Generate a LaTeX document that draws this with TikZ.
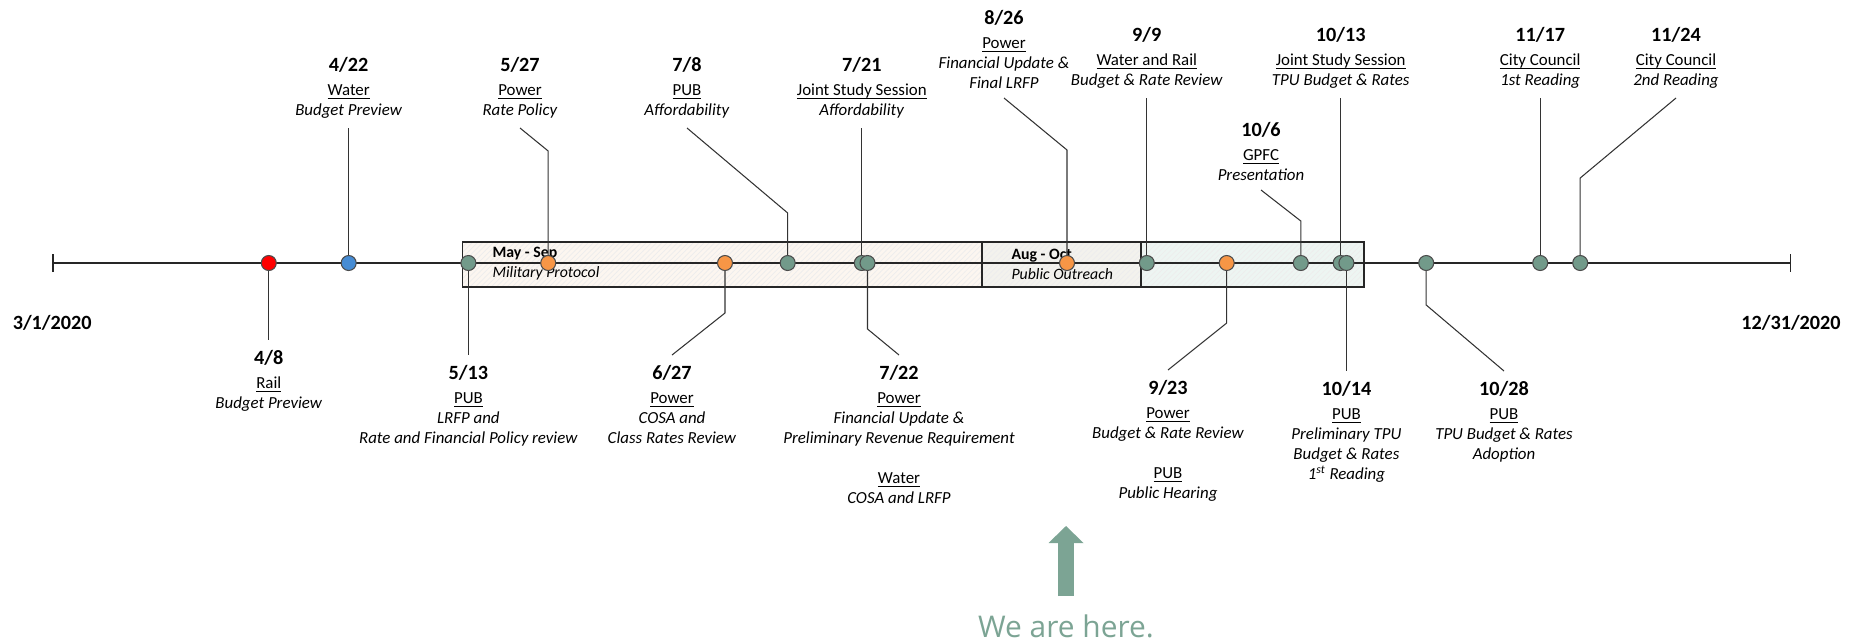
\documentclass[tikz,border=0pt]{standalone}
\usepackage{fontspec}
\setmainfont{Carlito}
\newfontfamily\herefont{Open Sans}
\usetikzlibrary{positioning,arrows.meta,patterns}

\definecolor{tpugreen}{RGB}{114,154,138}
\definecolor{tpuorange}{RGB}{247,150,70}
\definecolor{tpublue}{RGB}{70,140,212}
\definecolor{tpured}{RGB}{255,0,0}
\definecolor{peach}{RGB}{252,246,240}
\definecolor{sand}{RGB}{243,242,237}
\definecolor{mint}{RGB}{237,245,242}
\definecolor{heregreen}{RGB}{124,164,148}

\newcommand{\lblfont}{\fontsize{9.6}{11.4}\selectfont}
\newcommand{\dt}[1]{{\fontsize{11.5}{11.4}\selectfont\bfseries #1}\\[2.3pt]}
\newcommand{\ul}[1]{\underline{\smash{#1}}}

\tikzset{every picture/.style={line width=0.6pt}}
\tikzset{
  evt/.style={circle, draw=black!70, line width=0.6pt, minimum size=3mm, inner sep=0pt},
  gdot/.style={evt, fill=tpugreen},
  odot/.style={evt, fill=tpuorange},
  bdot/.style={evt, fill=tpublue},
  rdot/.style={evt, fill=tpured},
  lbl/.style={align=center, font=\lblfont, inner xsep=0pt},
  toplbl/.style={lbl, anchor=south, inner ysep=5pt},
  botlbl/.style={lbl, anchor=north, inner ysep=5.5pt},
  leader/.style={draw=black!80, line width=0.6pt},
  timeline/.style={draw=black!85, line width=0.8pt, arrows={Bar[width=3.6mm]-Bar[width=3.6mm]}},
  period/.style={draw=black!85, line width=0.6pt, pattern=north east lines, pattern color=black!7},
  periodlbl/.style={anchor=west, align=left, font=\fontsize{9}{11.4}\selectfont, inner sep=0pt},
  enddate/.style={font=\fontsize{11.5}{14}\selectfont\bfseries},
  herelbl/.style={font=\herefont\fontsize{17}{20}\selectfont, text=heregreen},
  herearrow/.style={draw=heregreen, line width=3.2mm, -{Triangle[width=7mm,length=3.4mm,line width=0pt]}}
}

\begin{document}
\begin{tikzpicture}[x=0.2mm, y=-0.2mm]
\useasboundingbox (0,0) rectangle (1860,641);

% outreach periods
\draw[period, preaction={fill=peach}] (462.6,242) rectangle (982,287);
\draw[period, preaction={fill=sand}] (982,242) rectangle (1141,287);
\draw[period, preaction={fill=mint}] (1141,242) rectangle (1364,287);
\node[periodlbl] (maysep) at (492,264) {\textbf{May - Sep}\\\textit{Military Protocol}};
\node[periodlbl] (augoct) at (1011,264) {\textbf{Aug - Oct}\\\textit{Public Outreach}};

% time axis
\coordinate (tstart) at (52.2,263);
\coordinate (tend) at (1791,263);
\draw[timeline] (tstart) -- (tend);
\node[enddate] (dstart) at (52.2,323) {3/1/2020};
\node[enddate] (dend) at (1791,323) {12/31/2020};

% meetings
\foreach \d/\x/\s in {408/268.8/rdot, 422/348.7/bdot, 513/468.4/gdot, 527/548.2/odot,
    627/725/odot, 708/787.7/gdot, 721/861.8/gdot, 722/867.5/gdot, 826/1067/odot,
    909/1146.8/gdot, 923/1226.7/odot, 1006/1300.8/gdot, 1013/1340.7/gdot,
    1014/1346.4/gdot, 1028/1426.2/gdot, 1117/1540.2/gdot, 1124/1580.2/gdot}
  \node[\s] (d\d) at (\x,263) {};

% labels above
\node[toplbl] (l422) at (348.7,128) {\dt{4/22}\ul{Water}\\\textit{Budget Preview}};
\node[toplbl] (l527) at (520,128) {\dt{5/27}\ul{Power}\\\textit{Rate Policy}};
\node[toplbl] (l708) at (687,128) {\dt{7/8}\ul{PUB}\\\textit{Affordability}};
\node[toplbl] (l721) at (861.8,128) {\dt{7/21}\ul{Joint Study Session}\\\textit{Affordability}};
\node[toplbl] (l826) at (1004,98) {\dt{8/26}\ul{Power}\\\textit{Financial Update \&}\\\textit{Final LRFP}};
\node[toplbl] (l909) at (1146.8,98) {\dt{9/9}\ul{Water and Rail}\\\textit{Budget \& Rate Review}};
\node[toplbl] (l1006) at (1261,190) {\dt{10/6}\ul{GPFC}\\\textit{Presentation}};
\node[toplbl] (l1013) at (1340.7,98) {\dt{10/13}\ul{Joint Study Session}\\\textit{TPU Budget \& Rates}};
\node[toplbl] (l1117) at (1540.2,98) {\dt{11/17}\ul{City Council}\\\textit{1st Reading}};
\node[toplbl] (l1124) at (1676,98) {\dt{11/24}\ul{City Council}\\\textit{2nd Reading}};

% labels below
\node[botlbl] (l408) at (268.8,340) {\dt{4/8}\ul{Rail}\\\textit{Budget Preview}};
\node[botlbl] (l513) at (468.4,355) {\dt{5/13}\ul{PUB}\\\textit{LRFP and}\\\textit{Rate and Financial Policy review}};
\node[botlbl] (l627) at (672,355) {\dt{6/27}\ul{Power}\\\textit{COSA and}\\\textit{Class Rates Review}};
\node[botlbl] (l722) at (899,355) {\dt{7/22}\ul{Power}\\\textit{Financial Update \&}\\\textit{Preliminary Revenue Requirement}\\[11.4pt]\ul{Water}\\\textit{COSA and LRFP}};
\node[botlbl] (l923) at (1168,370) {\dt{9/23}\ul{Power}\\\textit{Budget \& Rate Review}\\[11.4pt]\ul{PUB}\\\textit{Public Hearing}};
\node[botlbl] (l1014) at (1346.4,371) {\dt{10/14}\ul{PUB}\\\textit{Preliminary TPU}\\\textit{Budget \& Rates}\\\textit{1\textsuperscript{st} Reading}};
\node[botlbl] (l1028) at (1504,371) {\dt{10/28}\ul{PUB}\\\textit{TPU Budget \& Rates}\\\textit{Adoption}};

% leaders
\draw[leader] (d422) -- (l422.south);
\draw[leader] (d527) -- (d527 |- 0,151) -- (l527.south);
\draw[leader] (d708) -- (d708 |- 0,213) -- (l708.south);
\draw[leader] (d721) -- (l721.south);
\draw[leader] (d826) -- (d826 |- 0,150) -- (l826.south);
\draw[leader] (d909) -- (l909.south);
\draw[leader] (d1006) -- (d1006 |- 0,221) -- (l1006.south);
\draw[leader] (d1013) -- (l1013.south);
\draw[leader] (d1117) -- (l1117.south);
\draw[leader] (d1124) -- (d1124 |- 0,178) -- (l1124.south);
\draw[leader] (d408) -- (l408.north);
\draw[leader] (d513) -- (l513.north);
\draw[leader] (d627) -- (d627 |- 0,313) -- (l627.north);
\draw[leader] (d722) -- (d722 |- 0,329) -- (l722.north);
\draw[leader] (d923) -- (d923 |- 0,323) -- (l923.north);
\draw[leader] (d1014) -- (l1014.north);
\draw[leader] (d1028) -- (d1028 |- 0,305) -- (l1028.north);

% we are here
\node[herelbl] (here) at (1066,626) {We are here.};
\coordinate (herept) at (1066,526);
\draw[herearrow] (here.north |- 0,596) -- (herept);
\end{tikzpicture}
\end{document}
